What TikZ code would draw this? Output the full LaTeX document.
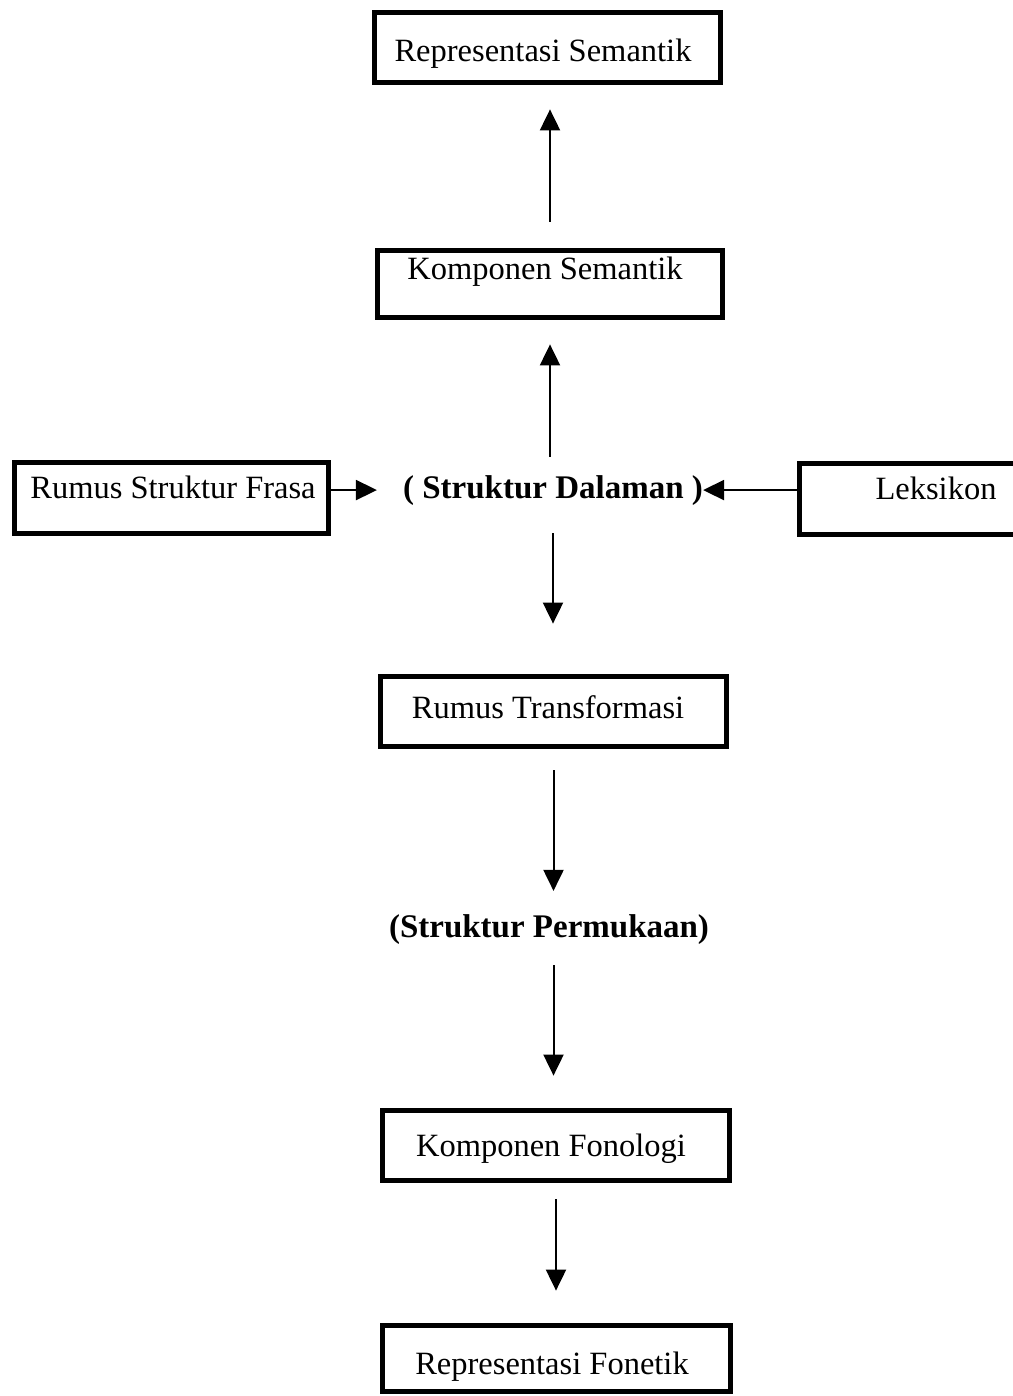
\documentclass[tikz,border=0pt]{standalone}
\usepackage{fontspec}
\setmainfont{Liberation Serif}
\usetikzlibrary{arrows.meta}
\begin{document}
\begin{tikzpicture}[x=1pt,y=-1pt,
  box/.style={draw, line width=4.8pt, rectangle, inner sep=0pt},
  lbl/.style={anchor=base, inner sep=0pt, font=\fontsize{32.5}{38}\selectfont},
  blbl/.style={anchor=base, inner sep=0pt, font=\fontsize{33}{38}\selectfont\bfseries},
  arr/.style={line width=2pt, -{Triangle[length=21pt,width=20pt]}}]
\useasboundingbox (0,0) rectangle (1012,1396);
% boxes
\node[box, minimum width=346.5pt, minimum height=70.5pt] (b1) at (547.5,47.5) {};
\node[box, minimum width=345.5pt, minimum height=67.5pt] (b2) at (550,284) {};
\node[box, minimum width=314.5pt, minimum height=71.5pt] (b3) at (171.5,498) {};
\node[box, minimum width=218.5pt, minimum height=71.5pt] (b4) at (908.5,499) {};
\node[box, minimum width=346.5pt, minimum height=70.5pt] (b5) at (553.5,711.5) {};
\node[box, minimum width=347.5pt, minimum height=70.5pt] (b6) at (556,1145.5) {};
\node[box, minimum width=348.5pt, minimum height=66.5pt] (b7) at (556.5,1358.5) {};
% texts
\node[lbl] (t1) at (543,62) {Representasi Semantik};
\node[lbl] (t2) at (545,280) {Komponen Semantik};
\node[lbl] (t3) at (173,498) {Rumus Struktur Frasa};
\node[lbl] (t4) at (936,499) {Leksikon};
\node[lbl] (t5) at (548,718) {Rumus Transformasi};
\node[lbl] (t6) at (551,1156) {Komponen Fonologi};
\node[lbl] (t7) at (552,1374) {Representasi Fonetik};
\node[blbl] (sd) at (553,498) {( Struktur Dalaman )};
\node[blbl] (sp) at (549,937) {(Struktur Permukaan)};
% connectors
\draw[arr, shorten <=26.25pt, shorten >=24.25pt] (b2.north) -- (b2.north |- b1.south);
\draw[arr, shorten <=18pt, shorten >=24.25pt] (b2.south |- sd.north) -- (b2.south);
\draw[arr, shorten >=26pt] (b3.east |- sd.center) -- (sd.west |- sd.center);
\draw[arr] (b4.west |- sd.center) -- (sd.east |- sd.center);
\draw[arr, shorten <=28pt, shorten >=50.25pt] (sd.south) -- (sd.south |- b5.north);
\draw[arr, shorten <=21.25pt, shorten >=23pt] (b5.south) -- (b5.south |- sp.north);
\draw[arr, shorten <=21pt, shorten >=32.25pt] (sp.south -| b5.south) -- (b5.south |- b6.north);
\draw[arr, shorten <=16.25pt, shorten >=32.25pt] (b6.south) -- (b6.south |- b7.north);
\end{tikzpicture}
\end{document}
